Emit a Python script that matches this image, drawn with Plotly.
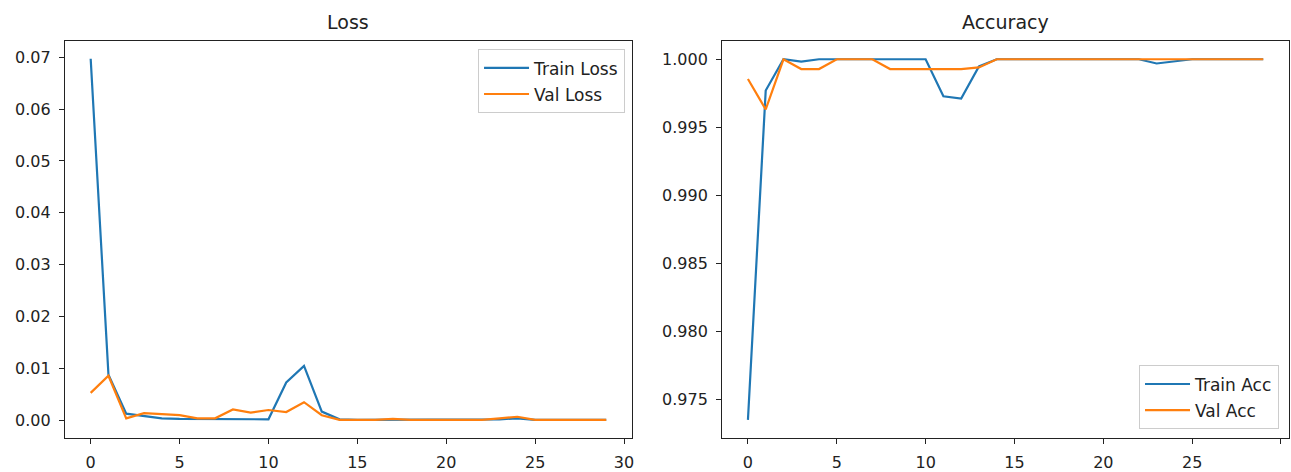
import plotly.graph_objects as go

epochs = list(range(30))

train_loss = [0.0697, 0.0088, 0.0013, 0.0008, 0.0004, 0.0003, 0.0003, 0.0003, 0.0002, 0.0002,
              0.0002, 0.0073, 0.0105, 0.0017, 0.0002, 0.0001, 0.0001, 0.0001, 0.0001, 0.0001,
              0.0001, 0.0001, 0.0001, 0.0002, 0.0004, 0.0001, 0.0001, 0.0001, 0.0001, 0.0001]
val_loss = [0.0053, 0.0086, 0.0004, 0.0014, 0.0012, 0.0010, 0.0004, 0.0004, 0.0021, 0.0015,
            0.0020, 0.0016, 0.0035, 0.0010, 0.0001, 0.0001, 0.0001, 0.0003, 0.0001, 0.0001,
            0.0001, 0.0001, 0.0001, 0.0004, 0.0007, 0.0001, 0.0001, 0.0001, 0.0001, 0.0001]

train_acc = [0.9735, 0.9977, 1.0, 0.99983, 1.0, 1.0, 1.0, 1.0, 1.0, 1.0,
             1.0, 0.99728, 0.99711, 0.99947, 1.0, 1.0, 1.0, 1.0, 1.0, 1.0,
             1.0, 1.0, 1.0, 0.99969, 0.99983, 1.0, 1.0, 1.0, 1.0, 1.0]
val_acc = [0.99855, 0.99631, 1.0, 0.99928, 0.99928, 1.0, 1.0, 1.0, 0.99928, 0.99928,
           0.99928, 0.99928, 0.99928, 0.99940, 1.0, 1.0, 1.0, 1.0, 1.0, 1.0,
           1.0, 1.0, 1.0, 1.0, 1.0, 1.0, 1.0, 1.0, 1.0, 1.0]

loss_ticks = [0.00, 0.01, 0.02, 0.03, 0.04, 0.05, 0.06, 0.07]
acc_ticks = [0.975, 0.980, 0.985, 0.990, 0.995, 1.000]
x_ticks = [0, 5, 10, 15, 20, 25, 30]

BLUE = "#1f77b4"
ORANGE = "#ff7f0e"
FONT = "DejaVu Sans"
W, H = 1291, 472

fig = go.Figure()
fig.add_trace(go.Scatter(x=epochs, y=train_loss, mode="lines", name="Train Loss", legendgroup="a",
                         line=dict(color=BLUE, width=2.2), xaxis="x", yaxis="y", legend="legend"))
fig.add_trace(go.Scatter(x=epochs, y=val_loss, mode="lines", name="Val Loss", legendgroup="b",
                         line=dict(color=ORANGE, width=2.2), xaxis="x", yaxis="y", legend="legend"))
fig.add_trace(go.Scatter(x=epochs, y=train_acc, mode="lines", name="Train Acc", legendgroup="c",
                         line=dict(color=BLUE, width=2.2), xaxis="x2", yaxis="y2", legend="legend2"))
fig.add_trace(go.Scatter(x=epochs, y=val_acc, mode="lines", name="Val Acc", legendgroup="d",
                         line=dict(color=ORANGE, width=2.2), xaxis="x2", yaxis="y2", legend="legend2"))

ydom = [1 - 443.5 / H, 1 - 41.7 / H]
axis_common = dict(showline=True, mirror=True, linecolor="#222222", linewidth=1.2,
                   ticks="outside", ticklen=5, tickwidth=1.1, tickcolor="#222222",
                   showgrid=False, zeroline=False,
                   tickfont=dict(family=FONT, size=16, color="#222222"))

legend_common = dict(bgcolor="rgba(255,255,255,0.8)", bordercolor="#cccccc", borderwidth=1,
                     font=dict(family=FONT, size=17, color="#222222"),
                     itemwidth=45, tracegroupgap=1)

fig.update_layout(
    width=W, height=H,
    margin=dict(l=0, r=0, t=0, b=0),
    plot_bgcolor="white", paper_bgcolor="white",
    font=dict(family=FONT, size=16, color="#222222"),
    xaxis=dict(domain=[65 / W, 633 / W], range=[-1.45, 30.45], tickvals=x_ticks,
               anchor="y", ticklabelstandoff=5, **axis_common),
    yaxis=dict(domain=ydom, range=[-0.00337, 0.0731], tickvals=loss_ticks,
               tickformat=".2f", anchor="x", ticklabelstandoff=5, **axis_common),
    xaxis2=dict(domain=[723.3 / W, 1.0], range=[-1.45, 30.45], tickvals=x_ticks,
                anchor="y2", ticklabelstandoff=5, **axis_common),
    yaxis2=dict(domain=ydom, range=[0.97218, 1.00133], tickvals=acc_ticks,
                tickformat=".3f", anchor="x2", ticklabelstandoff=5, **axis_common),
    legend=dict(x=626 / W, y=1 - 50 / H, xanchor="right", yanchor="top", **legend_common),
    legend2=dict(x=1281 / W, y=1 - 435 / H, xanchor="right", yanchor="bottom", **legend_common),
    annotations=[
        dict(text="Loss", x=349 / W, y=1 - 22 / H, xref="paper", yref="paper",
             xanchor="center", yanchor="middle", showarrow=False,
             font=dict(family=FONT, size=19, color="#222222")),
        dict(text="Accuracy", x=1007 / W, y=1 - 22 / H, xref="paper", yref="paper",
             xanchor="center", yanchor="middle", showarrow=False,
             font=dict(family=FONT, size=19, color="#222222")),
    ],
)

fig.write_html("out.html", config={"displayModeBar": False},
               post_script="document.body.style.margin='0';document.body.style.overflow='hidden';")
